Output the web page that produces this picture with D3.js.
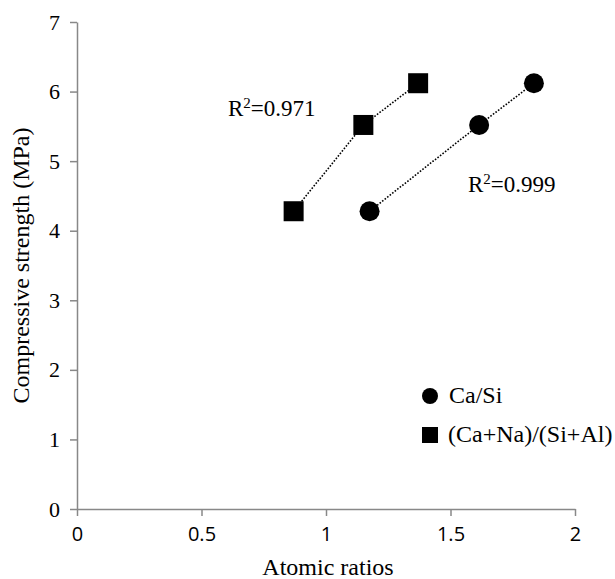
<!DOCTYPE html>
<html>
<head>
<meta charset="utf-8">
<script src="https://cdn.jsdelivr.net/npm/d3@7"></script>
<style>
  body { margin: 0; background: #fff; }
  svg { display: block; }
</style>
</head>
<body>
<svg width="615" height="579"></svg>
<script>
const width = 615
const height = 579
const margin = { top: 22, right: 40, bottom: 70, left: 77 }

// values
const caSiX = [1.175, 1.615, 1.835]
const caSiY = [4.28, 5.52, 6.12]
const caNaX = [0.87, 1.15, 1.37]
const caNaY = [4.28, 5.52, 6.12]
const xTicks = [0, 0.5, 1, 1.5, 2]
const yTicks = [0, 1, 2, 3, 4, 5, 6, 7]
const seriesNames = ['Ca/Si', '(Ca+Na)/(Si+Al)']
const r2Labels = ['0.999', '0.971']

const serif = 'Liberation Serif, Times New Roman, serif'
const sans = 'Open Sans, Liberation Sans, sans-serif'

const svg = d3.select('svg')

const xScale = d3.scaleLinear()
  .domain([0, 2])
  .range([margin.left, width - margin.right])

const yScale = d3.scaleLinear()
  .domain([0, 7])
  .range([height - margin.bottom, margin.top])

// axes
const xAxis = d3.axisBottom(xScale)
  .tickValues(xTicks)
  .tickFormat(d => d)
  .tickSizeInner(7)
  .tickSizeOuter(0)

const yAxis = d3.axisLeft(yScale)
  .tickValues(yTicks)
  .tickFormat(d => d)
  .tickSizeInner(7)
  .tickSizeOuter(0)

const gx = svg.append('g')
  .attr('transform', `translate(0, ${height - margin.bottom})`)
  .call(xAxis)
gx.selectAll('text')
  .attr('font-family', sans)
  .attr('font-size', 20)
  .attr('fill', '#000')
  .attr('y', 32)
  .attr('dy', 0)

const gy = svg.append('g')
  .attr('transform', `translate(${margin.left}, 0)`)
  .call(yAxis)
gy.selectAll('text')
  .attr('font-family', serif)
  .attr('font-size', 22)
  .attr('fill', '#000')
  .attr('x', -17)

svg.selectAll('.domain, .tick line')
  .attr('stroke', '#888')
  .attr('stroke-width', 1.5)

// axis titles
svg.append('text')
  .attr('x', xScale(1) + 2)
  .attr('y', 575)
  .attr('text-anchor', 'middle')
  .attr('font-family', serif)
  .attr('font-size', 24)
  .text('Atomic ratios')

svg.append('text')
  .attr('transform', `translate(29, ${yScale(3.5)}) rotate(-90)`)
  .attr('text-anchor', 'middle')
  .attr('font-family', serif)
  .attr('font-size', 24)
  .text('Compressive strength (MPa)')

// trend lines (dotted)
const line = d3.line()
  .x(d => xScale(d[0]))
  .y(d => yScale(d[1]))

const caSi = caSiX.map((x, i) => [x, caSiY[i]])
const caNa = caNaX.map((x, i) => [x, caNaY[i]])

;[caSi, caNa].forEach(s => {
  svg.append('path')
    .datum(s)
    .attr('d', line)
    .attr('fill', 'none')
    .attr('stroke', '#000')
    .attr('stroke-width', 1.6)
    .attr('stroke-dasharray', '1.6,1.6')
})

// markers
const side = 20
svg.selectAll('circle.pt')
  .data(caSi)
  .enter().append('circle')
  .attr('class', 'pt')
  .attr('cx', d => xScale(d[0]))
  .attr('cy', d => yScale(d[1]))
  .attr('r', 10)
  .attr('fill', '#000')

svg.selectAll('rect.pt')
  .data(caNa)
  .enter().append('rect')
  .attr('class', 'pt')
  .attr('x', d => xScale(d[0]) - side / 2)
  .attr('y', d => yScale(d[1]) - side / 2)
  .attr('width', side)
  .attr('height', side)
  .attr('fill', '#000')

// R² labels
const r2 = (x, y, val) => {
  const t = svg.append('text')
    .attr('x', x)
    .attr('y', y)
    .attr('font-family', serif)
    .attr('font-size', 23)
  t.append('tspan').text('R')
  t.append('tspan').attr('font-size', 15).attr('dy', -8).text('2')
  t.append('tspan').attr('dy', 8).text('=' + val)
}
r2(468, 192, r2Labels[0])
r2(228, 116, r2Labels[1])

// legend
const lx = 430
const ls = 16
svg.append('circle')
  .attr('cx', lx)
  .attr('cy', 396)
  .attr('r', ls / 2)
  .attr('fill', '#000')
svg.append('text')
  .attr('x', lx + 19)
  .attr('y', 403)
  .attr('font-family', serif)
  .attr('font-size', 24)
  .text(seriesNames[0])

svg.append('rect')
  .attr('x', lx - ls / 2)
  .attr('y', 435 - ls / 2)
  .attr('width', ls)
  .attr('height', ls)
  .attr('fill', '#000')
svg.append('text')
  .attr('x', lx + 18)
  .attr('y', 442)
  .attr('font-family', serif)
  .attr('font-size', 24)
  .text(seriesNames[1])
</script>
</body>
</html>
